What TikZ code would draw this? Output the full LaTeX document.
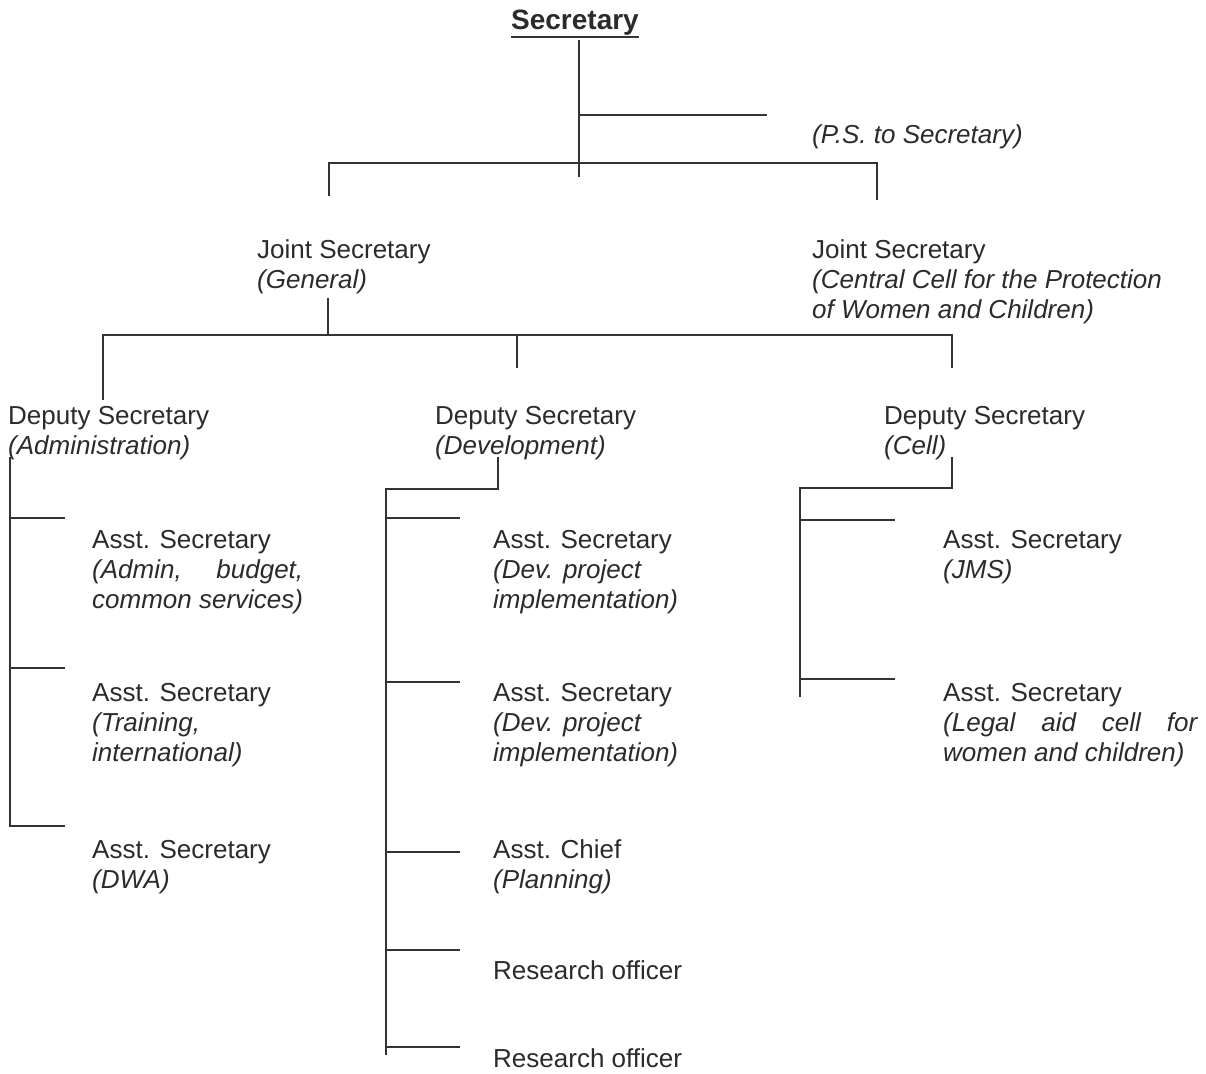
\documentclass[tikz,border=0pt]{standalone}
\usepackage{fontspec}
\setmainfont{Liberation Sans}
\definecolor{ink}{HTML}{2B2B2B}
\definecolor{rulegray}{HTML}{333333}
% a post: first line upright, further lines italic, fixed 30pt line pitch
\newcommand\orgpost[2]{\vtop{\baselineskip=30pt\lineskiplimit=-20pt\hbox{#1}#2}}
\newcommand\orgsub[1]{\hbox{\itshape #1}}

\begin{document}
\begin{tikzpicture}[x=1pt,y=-1pt,
  post/.style={anchor=base west, inner sep=0pt, text=ink,
               font=\fontsize{26}{30}\selectfont},
  link/.style={draw=rulegray, line width=1.5pt}]

\useasboundingbox (0,0) rectangle (1206,1073);
\fill[white] (0,0) rectangle (1206,1073);

% ---------------- posts ----------------
\node[anchor=base, inner sep=0pt, text=ink,
      font=\fontsize{28}{32}\selectfont\bfseries] (sec) at (575,29.5) {Secretary};
\draw[rulegray, line width=2pt] ([yshift=-8pt]sec.base west) -- ([yshift=-8pt]sec.base east);

\node[post] (ps) at (812,143) {\itshape (P.S. to Secretary)};

\node[post] (jsg) at (257,258) {\orgpost{Joint Secretary}{\orgsub{(General)}}};
\node[post] (jsc) at (812,258) {\orgpost{Joint Secretary}{%
  \orgsub{(Central Cell for the Protection}\orgsub{of Women and Children)}}};

\node[post] (dsa) at (8,424)   {\orgpost{Deputy Secretary}{\orgsub{(Administration)}}};
\node[post] (dsd) at (435,424) {\orgpost{Deputy Secretary}{\orgsub{(Development)}}};
\node[post] (dsc) at (884,424) {\orgpost{Deputy Secretary}{\orgsub{(Cell)}}};

\node[post] (a1) at (92,548) {\orgpost{Asst. Secretary}{%
  \orgsub{\hbox to 211pt{(Admin,\hfill budget,}}\orgsub{common services)}}};
\node[post] (a2) at (92,701) {\orgpost{Asst. Secretary}{%
  \orgsub{(Training,}\orgsub{international)}}};
\node[post] (a3) at (92,858) {\orgpost{Asst. Secretary}{\orgsub{(DWA)}}};

\node[post] (d1) at (493,548) {\orgpost{Asst. Secretary}{%
  \orgsub{(Dev. project}\orgsub{implementation)}}};
\node[post] (d2) at (493,701) {\orgpost{Asst. Secretary}{%
  \orgsub{(Dev. project}\orgsub{implementation)}}};
\node[post] (d3) at (493,858) {\orgpost{Asst. Chief}{\orgsub{(Planning)}}};
\node[post] (d4) at (493,979) {Research officer};
\node[post] (d5) at (493,1067) {Research officer};

\node[post] (c1) at (943,548) {\orgpost{Asst. Secretary}{\orgsub{(JMS)}}};
\node[post] (c2) at (943,701) {\orgpost{Asst. Secretary}{%
  \orgsub{\hbox to 254pt{(Legal\hfill aid\hfill cell\hfill for}}%
  \orgsub{women and children)}}};

% ---------------- junction points ----------------
\coordinate (secTop)  at (579,40);
\coordinate (secBot)  at (579,177);
\coordinate (psJ)     at (579,115);
\coordinate (psEnd)   at (767,115);
\coordinate (jsL)     at (329,196);
\coordinate (jsLc)    at (329,163);
\coordinate (jsRc)    at (877,163);
\coordinate (jsR)     at (877,200);

\coordinate (jsgOut)  at (328,298);
\coordinate (jsgJ)    at (328,335);
\coordinate (dsaIn)   at (103,400);
\coordinate (dsaC)    at (103,335);
\coordinate (dscC)    at (952,335);
\coordinate (dscIn)   at (952,368);
\coordinate (dsdC)    at (517,335);
\coordinate (dsdIn)   at (517,368);

% Administration column
\coordinate (aTop) at (10,457);
\coordinate (aBot) at (10,826);
\coordinate (aJ1)  at (10,518);
\coordinate (aJ2)  at (10,668);
\coordinate (aE1)  at (65,518);
\coordinate (aE2)  at (65,668);
\coordinate (aE3)  at (65,826);

% Development column
\coordinate (dOut) at (498,457);
\coordinate (dCor) at (498,489);
\coordinate (dTop) at (386,489);
\coordinate (dBot) at (386,1055);
\coordinate (dJ1) at (386,518)  ; \coordinate (dE1) at (460,518);
\coordinate (dJ2) at (386,682)  ; \coordinate (dE2) at (460,682);
\coordinate (dJ3) at (386,852)  ; \coordinate (dE3) at (460,852);
\coordinate (dJ4) at (386,950)  ; \coordinate (dE4) at (460,950);
\coordinate (dJ5) at (386,1047) ; \coordinate (dE5) at (460,1047);

% Cell column
\coordinate (cOut) at (952,457);
\coordinate (cCor) at (952,488);
\coordinate (cTop) at (800,488);
\coordinate (cBot) at (800,697);
\coordinate (cJ1) at (800,520) ; \coordinate (cE1) at (895,520);
\coordinate (cJ2) at (800,679) ; \coordinate (cE2) at (895,679);

% ---------------- connectors ----------------
\draw[link] (secTop) -- (secBot);
\draw[link] (psJ) -- (psEnd);
\draw[link] (jsL) -- (jsLc) -- (jsRc) -- (jsR);

\draw[link] (jsgOut) -- (jsgJ);
\draw[link] (dsaIn) -- (dsaC) -- (dscC) -- (dscIn);
\draw[link] (dsdC) -- (dsdIn);

\draw[link] (aTop) -- (aBot) -- (aE3);
\draw[link] (aJ1) -- (aE1);
\draw[link] (aJ2) -- (aE2);

\draw[link] (dOut) -- (dCor) -- (dTop) -- (dBot);
\foreach \i in {1,...,5} \draw[link] (dJ\i) -- (dE\i);

\draw[link] (cOut) -- (cCor) -- (cTop) -- (cBot);
\draw[link] (cJ1) -- (cE1);
\draw[link] (cJ2) -- (cE2);

\end{tikzpicture}
\end{document}
